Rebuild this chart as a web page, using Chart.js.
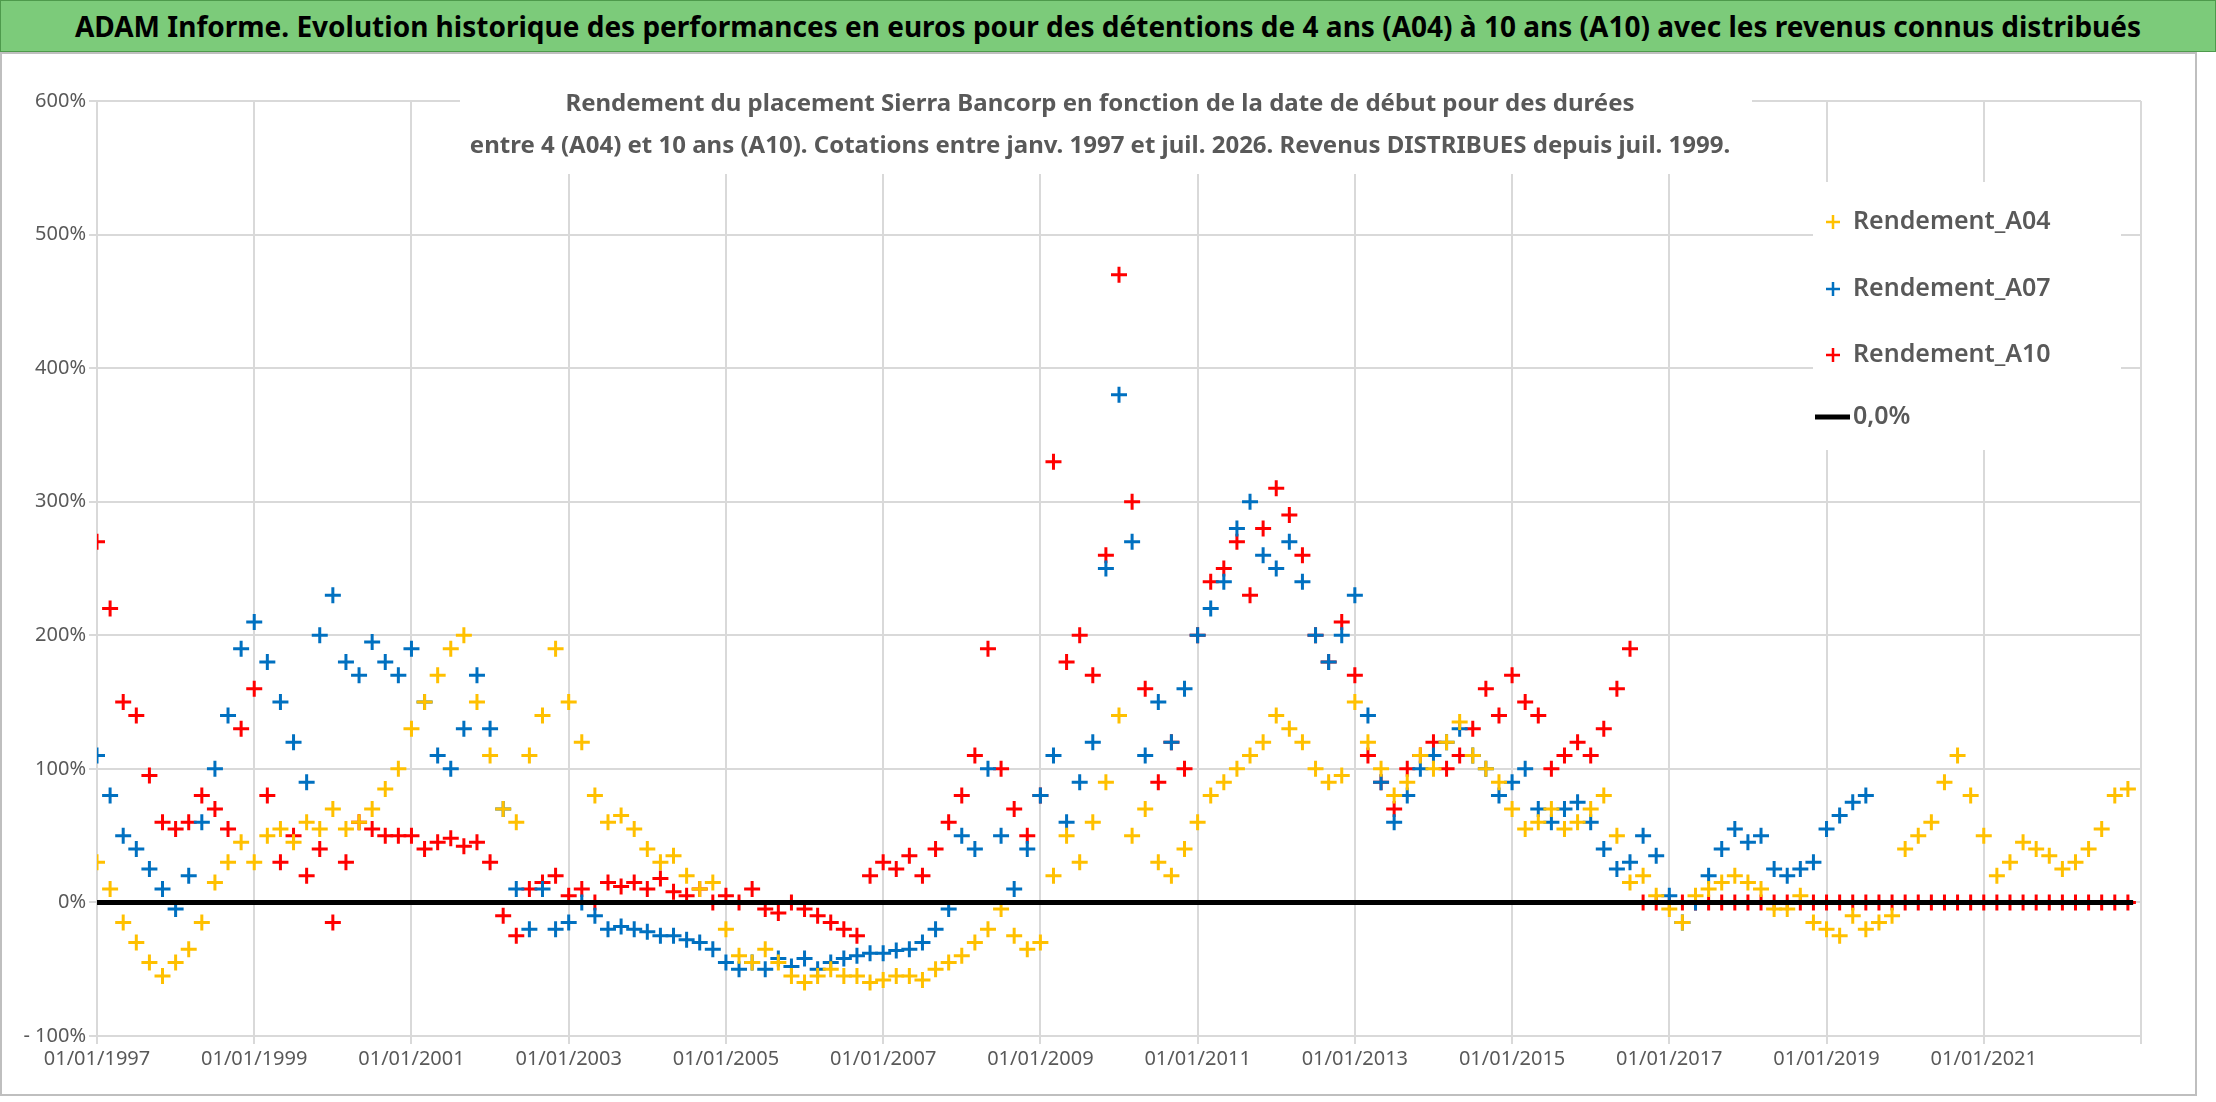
<!DOCTYPE html>
<html>
<head>
<meta charset="utf-8">
<script src="https://cdn.jsdelivr.net/npm/chart.js@4"></script>
<style>
  body { margin: 0; background: #fff; font-family: "Noto Sans", sans-serif; }
  #bar { height: 52px; background: #7ccb7a; border: 1px solid #4e9a4c; box-sizing: border-box;
         font-weight: bold; font-size: 28px; line-height: 50px; text-align: center; color: #000; width: 2216px; }
  #wrap { position: relative; width: 2216px; height: 1050px; }
</style>
</head>
<body>
<div id="bar">ADAM Informe. Evolution historique des performances en euros pour des détentions de 4 ans (A04) à 10 ans (A10) avec les revenus connus distribués</div>
<div id="wrap"><canvas id="chart"></canvas></div>
<script>
// start dates, one every two months from 01/01/1997
const dates = [];
for (let y = 1997; y <= 2022; y++) {
  for (let m = 0; m < 12; m += 2) dates.push(y + m / 12);
}

// Rendement_A04 (%)
const a04 = [
  30, 10, -15, -30, -45, -55,
  -45, -35, -15, 15, 30, 45,
  30, 50, 55, 45, 60, 55,
  70, 55, 60, 70, 85, 100,
  130, 150, 170, 190, 200, 150,
  110, 70, 60, 110, 140, 190,
  150, 120, 80, 60, 65, 55,
  40, 30, 35, 20, 10, 15,
  -20, -40, -45, -35, -45, -55,
  -60, -55, -50, -55, -55, -60,
  -58, -55, -55, -58, -50, -45,
  -40, -30, -20, -5, -25, -35,
  -30, 20, 50, 30, 60, 90,
  140, 50, 70, 30, 20, 40,
  60, 80, 90, 100, 110, 120,
  140, 130, 120, 100, 90, 95,
  150, 120, 100, 80, 90, 110,
  100, 120, 135, 110, 100, 90,
  70, 55, 60, 70, 55, 60,
  70, 80, 50, 15, 20, 5,
  -5, -15, 5, 10, 15, 20,
  15, 10, -5, -5, 5, -15,
  -20, -25, -10, -20, -15, -10,
  40, 50, 60, 90, 110, 80,
  50, 20, 30, 45, 40, 35,
  25, 30, 40, 55, 80, 85
];

// Rendement_A07 (%)
const a07 = [
  110, 80, 50, 40, 25, 10,
  -5, 20, 60, 100, 140, 190,
  210, 180, 150, 120, 90, 200,
  230, 180, 170, 195, 180, 170,
  190, 150, 110, 100, 130, 170,
  130, 70, 10, -20, 10, -20,
  -15, 0, -10, -20, -18, -20,
  -22, -25, -25, -28, -30, -35,
  -45, -50, -45, -50, -42, -48,
  -42, -50, -45, -42, -40, -38,
  -38, -36, -35, -30, -20, -5,
  50, 40, 100, 50, 10, 40,
  80, 110, 60, 90, 120, 250,
  380, 270, 110, 150, 120, 160,
  200, 220, 240, 280, 300, 260,
  250, 270, 240, 200, 180, 200,
  230, 140, 90, 60, 80, 100,
  110, 120, 130, 110, 100, 80,
  90, 100, 70, 60, 70, 75,
  60, 40, 25, 30, 50, 35,
  5, -15, 0, 20, 40, 55,
  45, 50, 25, 20, 25, 30,
  55, 65, 75, 80
];

// Rendement_A10 (%)
const a10 = [
  270, 220, 150, 140, 95, 60,
  55, 60, 80, 70, 55, 130,
  160, 80, 30, 50, 20, 40,
  -15, 30, 60, 55, 50, 50,
  50, 40, 45, 48, 42, 45,
  30, -10, -25, 10, 15, 20,
  5, 10, 0, 15, 12, 15,
  10, 18, 8, 5, 10, 0,
  5, 0, 10, -5, -8, 0,
  -5, -10, -15, -20, -25, 20,
  30, 25, 35, 20, 40, 60,
  80, 110, 190, 100, 70, 50,
  80, 330, 180, 200, 170, 260,
  470, 300, 160, 90, 120, 100,
  200, 240, 250, 270, 230, 280,
  310, 290, 260, 200, 180, 210,
  170, 110, 90, 70, 100, 110,
  120, 100, 110, 130, 160, 140,
  170, 150, 140, 100, 110, 120,
  110, 130, 160, 190, 0, 0,
  0, 0, 0, 0, 0, 0,
  0, 0, 0, 0, 0, 0,
  0, 0, 0, 0, 0, 0,
  0, 0, 0, 0, 0, 0,
  0, 0, 0, 0, 0, 0,
  0, 0, 0, 0, 0, 0
];

const yTicks = [-100, 0, 100, 200, 300, 400, 500, 600];
const subtitle = [
  'Rendement du placement Sierra Bancorp en fonction de la date de début pour des durées',
  'entre 4 (A04) et 10 ans (A10). Cotations entre janv. 1997 et juil. 2026. Revenus DISTRIBUES depuis juil. 1999.'
];

const pts = vals => vals.map((v, i) => ({ x: dates[i], y: v }));
const cross = (label, vals, color) => ({
  type: 'scatter', label, data: pts(vals), borderColor: color, backgroundColor: color,
  pointStyle: 'cross', pointRadius: 8, borderWidth: 3, showLine: false
});

const legendItems = [
  { text: 'Rendement_A04', color: '#FFC000', y: 222 },
  { text: 'Rendement_A07', color: '#0070C0', y: 289 },
  { text: 'Rendement_A10', color: '#FF0000', y: 355 },
  { text: '0,0%', color: '#000000', y: 417, line: true }
].map(it => ({ ...it, y: it.y - 52 }));

const overlay = {
  id: 'overlay',
  afterDraw(chart) {
    const ctx = chart.ctx;
    ctx.save();
    // outer frame
    ctx.strokeStyle = '#bfbfbf';
    ctx.lineWidth = 2;
    ctx.strokeRect(1, 1, 2195, 1042);
    // subtitle
    ctx.fillStyle = '#fff';
    ctx.fillRect(460, 30, 1292, 92);
    ctx.fillStyle = '#595959';
    ctx.font = 'bold 24px "Noto Sans"';
    ctx.textAlign = 'center';
    ctx.textBaseline = 'middle';
    ctx.fillText(subtitle[0], 1100, 52);
    ctx.fillText(subtitle[1], 1100, 94);
    // legend
    ctx.fillStyle = '#fff';
    ctx.fillRect(1813, 130, 308, 268);
    ctx.textAlign = 'left';
    ctx.font = '600 25px "Noto Sans"';
    legendItems.forEach(it => {
      ctx.strokeStyle = it.color;
      ctx.lineWidth = it.line ? 5 : 2.5;
      ctx.beginPath();
      if (it.line) {
        ctx.moveTo(1815, it.y); ctx.lineTo(1850, it.y);
      } else {
        ctx.moveTo(1826, it.y); ctx.lineTo(1840, it.y);
        ctx.moveTo(1833, it.y - 7); ctx.lineTo(1833, it.y + 7);
      }
      ctx.stroke();
      ctx.fillStyle = '#595959';
      ctx.fillText(it.text, 1853, it.y);
    });
    ctx.restore();
  }
};

new Chart(document.getElementById('chart'), {
  data: {
    datasets: [
      { type: 'line', label: '0,0%', data: [{ x: 1997, y: 0 }, { x: 2022.9, y: 0 }],
        borderColor: '#000', borderWidth: 5, pointRadius: 0 },
      cross('Rendement_A04', a04, '#FFC000'),
      cross('Rendement_A07', a07, '#0070C0'),
      cross('Rendement_A10', a10, '#FF0000')
    ]
  },
  options: {
    responsive: true,
    maintainAspectRatio: false,
    animation: false,
    layout: { padding: { top: 49, right: 75, left: 0, bottom: 0 } },
    plugins: { legend: { display: false }, title: { display: false }, tooltip: { enabled: false } },
    scales: {
      x: {
        type: 'linear', min: 1997, max: 2023,
        afterFit: s => { s.height = 66; },
        grid: { color: '#d9d9d9', lineWidth: 2 },
        border: { display: false },
        ticks: { stepSize: 2, color: '#595959', font: { size: 20, family: 'Noto Sans' }, maxRotation: 0,
                 callback: v => v === 2023 ? '' : '01/01/' + v }
      },
      y: {
        min: -100, max: 600,
        afterFit: s => { s.width = 97; },
        afterBuildTicks: s => { s.ticks = yTicks.map(v => ({ value: v })); },
        grid: { color: '#d9d9d9', lineWidth: 2 },
        border: { display: false },
        ticks: { color: '#595959', font: { size: 20, family: 'Noto Sans' },
                 callback: v => v < 0 ? '- ' + (-v) + '%' : v + '%' }
      }
    }
  },
  plugins: [overlay]
});
</script>
</body>
</html>
